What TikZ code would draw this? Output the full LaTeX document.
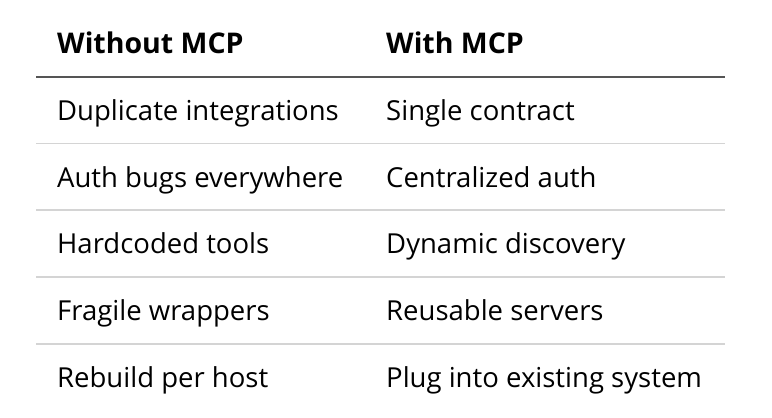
\documentclass[tikz,border=0pt]{standalone}
\usepackage{fontspec}
\setmainfont{Open Sans}
\definecolor{headrule}{HTML}{555555}
\definecolor{rowrule}{HTML}{D4D4D4}
\tikzset{
  cell/.style={anchor=base west,inner sep=0pt,font=\fontsize{27.5}{32}\selectfont},
  headcell/.style={cell,font=\fontsize{28.5}{32}\selectfont\bfseries},
}
\begin{document}
\begin{tikzpicture}[x=1pt,y=-1pt,line cap=butt]
	
	\useasboundingbox[fill=white] (0,0) rectangle (772,418);
	\def\colA{57}
	\def\colB{386}
	% header
	\node[headcell] (hA) at (\colA,53) {Without MCP};
	\node[headcell] (hB) at (\colB,53) {With MCP};
	\coordinate (hl) at (36,77);
	\coordinate (hr) at (725,77);
	\draw[headrule,line width=1.5pt] (hl) -- (hr);
	% rows
	\node[cell] (rA1) at (\colA,120) {Duplicate integrations};
	\node[cell] (rB1) at (\colB,120) {Single contract};
	\node[cell] (rA2) at (\colA,187) {Auth bugs everywhere};
	\node[cell] (rB2) at (\colB,187) {Centralized auth};
	\node[cell] (rA3) at (\colA,253) {Hardcoded tools};
	\node[cell] (rB3) at (\colB,253) {Dynamic discovery};
	\node[cell] (rA4) at (\colA,320) {Fragile wrappers};
	\node[cell] (rB4) at (\colB,320) {Reusable servers};
	\node[cell] (rA5) at (\colA,387) {Rebuild per host};
	\node[cell] (rB5) at (\colB,387) {Plug into existing system};
	\foreach \y in {143.5,210,277,344}
		\draw[rowrule,line width=1.5pt] (36,\y) -- (725,\y); % row rules
\end{tikzpicture}
\end{document}
